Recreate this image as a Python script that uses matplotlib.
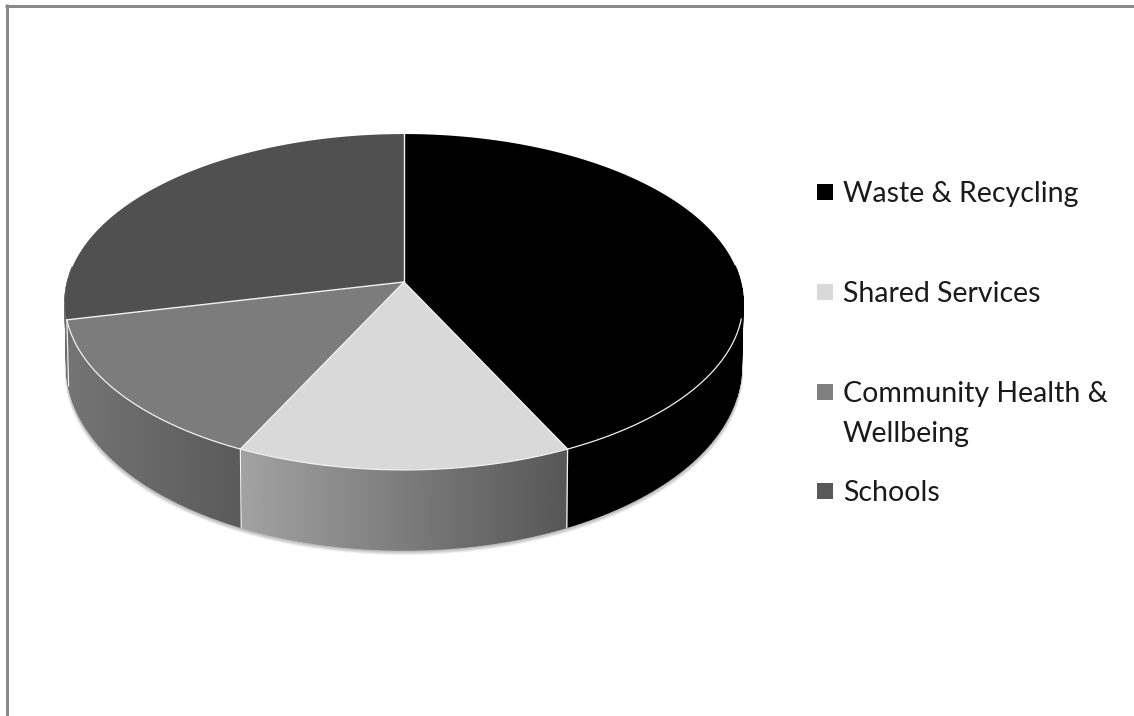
import numpy as np
import matplotlib
matplotlib.use("Agg")
import matplotlib.pyplot as plt
from matplotlib.colors import to_rgb

# data (slice shares look like 3:1:1:2)
categories = ["Waste & Recycling", "Shared Services", "Community Health &\nWellbeing", "Schools"]
values = [30, 10, 10, 20]

# styles
top_colors = ["#000000", "#d9d9d9", "#7c7c7c", "#505050"]
side_left = ["#000000", "#a2a2a2", "#747474", "#6e6e6e"]
side_right = ["#000000", "#565656", "#5a5a5a", "#6a6a6a"]
legend_colors = ["#000000", "#d9d9d9", "#808080", "#595959"]
legend_baselines = [202, 302, 402, 501]

# perspective of the disc, in pixels
CX, APEX_Y = 404, 282
K, A, RX = 0.119, -132.0, 336.6


def project(theta):
    # theta is clockwise from the back of the disc
    x, y = np.sin(theta), np.cos(theta)
    w = 1 + K * y
    return CX + RX * x / w, (A * y + APEX_Y) / w


def project_bottom(theta):
    px, py = project(theta)
    y = np.cos(theta)
    return CX + (px - CX) * 0.995, py + 62 - 18 * y


fig = plt.figure(figsize=(11.34, 7.16), dpi=100)
ax = fig.add_axes([0, 0, 1, 1])
ax.set_xlim(0, 1134)
ax.set_ylim(716, 0)
ax.axis("off")

# window border, only top and left
ax.plot([5, 1134], [5.5, 5.5], color="#8a8a8a", lw=2.16, solid_capstyle="butt")
ax.plot([6.5, 6.5], [4, 716], color="#8a8a8a", lw=2.16, solid_capstyle="butt")

# soft shadow below the side wall
circle = np.linspace(0, 2 * np.pi, 361)
circle = circle[np.cos(circle) < 0.1]
sx, sy = project_bottom(circle)
for off in [5, 4, 3, 2, 1]:
    ax.fill(CX + (sx - CX) * (1 + off * 0.0012), sy + off, color="#000000", alpha=0.07, lw=0, zorder=1)

shares = np.array(values) / sum(values)
edges = np.concatenate([[0], np.cumsum(shares)]) * 2 * np.pi

# side wall
for i in range(len(values)):
    th = np.linspace(edges[i], edges[i + 1], 120)
    th = th[np.cos(th) < 0.1]
    if len(th) < 2:
        continue
    tx, ty = project(th)
    bx, by = project_bottom(th)
    lo, hi = tx.min(), tx.max()
    c0, c1 = np.array(to_rgb(side_left[i])), np.array(to_rgb(side_right[i]))
    for j in range(len(th) - 1):
        mid = (tx[j] + tx[j + 1]) / 2
        f = (mid - lo) / (hi - lo)
        col = c0 + (c1 - c0) * f
        ax.fill([tx[j], tx[j + 1], bx[j + 1], bx[j]], [ty[j], ty[j + 1], by[j + 1], by[j]],
                color=col, lw=1.0, zorder=2)

# wall separators on the front
for e in edges[1:-1]:
    if np.cos(e) < 0:
        ex, ey = project(e)
        fx, fy = project_bottom(e)
        ax.plot([ex, fx], [ey, fy], color="#f2f2f2", lw=0.9, zorder=3)

# top face
for i in range(len(values)):
    th = np.linspace(edges[i], edges[i + 1], 200)
    tx, ty = project(th)
    ax.fill(np.r_[CX, tx], np.r_[APEX_Y, ty], color=top_colors[i], lw=0, zorder=4)

# white rim along the front and spokes
th = np.linspace(np.pi * 0.57, edges[3], 300)
tx, ty = project(th)
ax.plot(tx, ty, color="#f0f0f0", lw=0.9, zorder=5)
for e in edges[:-1]:
    ex, ey = project(e)
    ax.plot([CX, ex], [APEX_Y, ey], color="#f0f0f0", lw=1.0, zorder=5)

# legend
for i, label in enumerate(categories):
    base = legend_baselines[i]
    ax.fill([817, 833, 833, 817], [base - 18, base - 18, base - 2, base - 2],
            color=legend_colors[i], lw=0, zorder=5)
    for n, line in enumerate(label.split("\n")):
        ax.text(843, base + 40 * n, line, family="Lato", fontsize=20.5,
                color="#1a1a1a", va="baseline", ha="left")

fig.savefig("out.png", dpi=100)
